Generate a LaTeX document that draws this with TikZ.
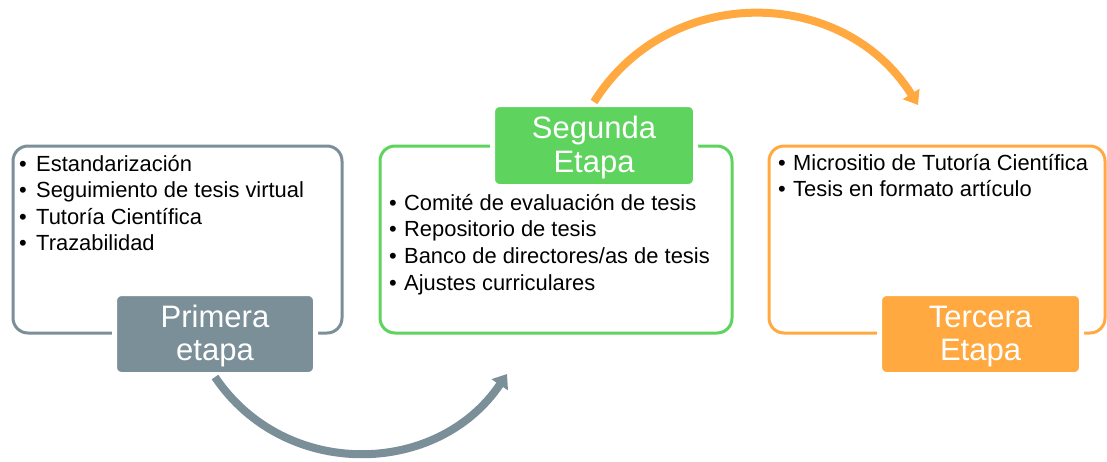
\documentclass[tikz,border=0pt]{standalone}
\usepackage{fontspec}
\setmainfont{Liberation Sans}
\usetikzlibrary{arrows.meta}
\definecolor{cgray}{RGB}{123,143,153}
\definecolor{cgreen}{RGB}{94,211,94}
\definecolor{corange}{RGB}{255,169,64}
\newcommand\bul[1][15pt]{\makebox[#1][l]{•}}
\newcommand\tstrut{\rule{0pt}{26.5pt}}
\begin{document}
\begin{tikzpicture}[x=1pt,y=1pt,
  stage/.style={draw=#1, line width=3pt, rounded corners=15pt, fill=white,
    minimum height=187pt, inner sep=0pt},
  stagetitle/.style={fill=#1, draw=white, line width=5pt, rounded corners=7pt,
    text=white, align=center, font=\fontsize{31}{33.5}\selectfont,
    minimum width=201pt, minimum height=81pt, inner sep=0pt},
  item/.style={anchor=base west, inner sep=0pt, font=\fontsize{21.9}{26.5}\selectfont},
  flow/.style={line width=8pt, draw=#1, -{Triangle[width=19pt,length=13pt]}}]
\useasboundingbox (0,0) rectangle (1107,-461);
% stage boxes
\node[stage=cgray,   minimum width=329pt] (s1) at (177.5,-239.5) {};
\node[stage=cgreen,  minimum width=352pt] (s2) at (556,-239.5) {};
\node[stage=corange, minimum width=336pt] (s3) at (937,-239.5) {};
% titles
\node[stagetitle=cgray] (t1) at (215,-334) {\tstrut Primera\\etapa};
\node[stagetitle=cgreen, minimum width=203pt, minimum height=82pt] (t2) at (594,-145.5) {\tstrut Segunda\\Etapa};
\node[stagetitle=corange, minimum width=202pt] (t3) at (980.5,-334) {\tstrut Tercera\\Etapa};
% items
\foreach \t [count=\i] in {Estandarización, Seguimiento de tesis virtual, Tutoría Científica, Trazabilidad}
  \node[item] (p\i) at (19,{-171-26.5*(\i-1)}) {\bul[17pt]\t};
\foreach \t [count=\i] in {Comité de evaluación de tesis, Repositorio de tesis, Banco de directores/as de tesis, Ajustes curriculares}
  \node[item] (q\i) at (389,{-210-26.7*(\i-1)}) {\bul\t};
\foreach \t [count=\i] in {Micrositio de Tutoría Científica, Tesis en formato artículo}
  \node[item] (r\i) at (778,{-170-26.7*(\i-1)}) {\bul\t};
% arrows
\coordinate (e1) at (507,-374);
\coordinate (e2) at (918,-105);
\draw[flow=cgray] (t1.south) to[out=-56,in=-124,looseness=1.09] (e1);
\draw[flow=corange] (t2.north) to[out=58,in=122,looseness=1.11] (e2);
\end{tikzpicture}
\end{document}
